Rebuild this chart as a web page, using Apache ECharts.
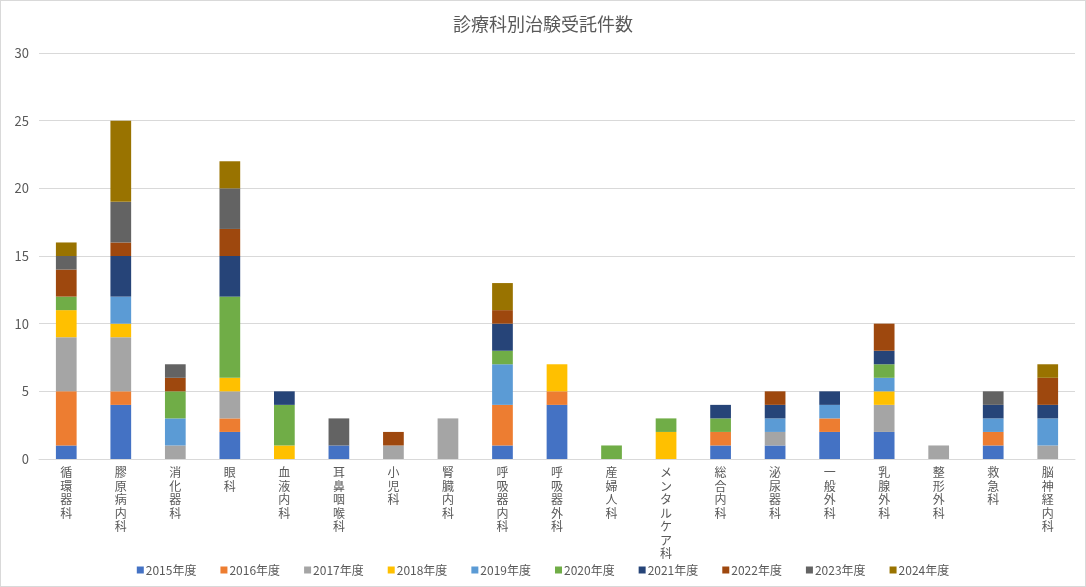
<!DOCTYPE html>
<html><head><meta charset="utf-8">
<script src="https://cdn.jsdelivr.net/npm/echarts@6/dist/echarts.min.js"></script>
<style>html,body{margin:0;padding:0;background:#fff}#c{width:1086px;height:587px;box-sizing:border-box;border:1px solid #d9d9d9}</style>
</head><body><div id="c"></div>
<script>
const categories = ['循環器科','膠原病内科','消化器科','眼科','血液内科','耳鼻咽喉科','小児科','腎臓内科','呼吸器内科','呼吸器外科','産婦人科','メンタルケア科','総合内科','泌尿器科','一般外科','乳腺外科','整形外科','救急科','脳神経内科'];
const seriesNames = ['2015年度','2016年度','2017年度','2018年度','2019年度','2020年度','2021年度','2022年度','2023年度','2024年度'];
const colors = ['#4472C4','#ED7D31','#A5A5A5','#FFC000','#5B9BD5','#70AD47','#264478','#9E480E','#636363','#997300'];
const y2015 = [1,4,0,2,0,1,0,0,1,4,0,0,1,1,2,2,0,1,0];
const y2016 = [4,1,0,1,0,0,0,0,3,1,0,0,1,0,1,0,0,1,0];
const y2017 = [4,4,1,2,0,0,1,3,0,0,0,0,0,1,0,2,1,0,1];
const y2018 = [2,1,0,1,1,0,0,0,0,2,0,2,0,0,0,1,0,0,0];
const y2019 = [0,2,2,0,0,0,0,0,3,0,0,0,0,1,1,1,0,1,2];
const y2020 = [1,0,2,6,3,0,0,0,1,0,1,1,1,0,0,1,0,0,0];
const y2021 = [0,3,0,3,1,0,0,0,2,0,0,0,1,1,1,1,0,1,1];
const y2022 = [2,1,1,2,0,0,1,0,1,0,0,0,0,1,0,2,0,0,2];
const y2023 = [1,3,1,3,0,2,0,0,0,0,0,0,0,0,0,0,0,1,0];
const y2024 = [1,6,0,2,0,0,0,0,2,0,0,0,0,0,0,0,0,0,1];
const yTicks = [0,5,10,15,20,25,30];
const allData = [y2015,y2016,y2017,y2018,y2019,y2020,y2021,y2022,y2023,y2024];

const chart = echarts.init(document.getElementById('c'));
const font = '"Noto Sans CJK JP", "Noto Sans", sans-serif';
chart.setOption({
  animation:false,
  textStyle:{fontFamily:font},
  title:{text:'診療科別治験受託件数',left:'center',top:9,textStyle:{fontSize:18,fontWeight:'normal',color:'#595959',fontFamily:font}},
  grid:{left:38,right:10,top:52,bottom:127,containLabel:false},
  legend:{bottom:5,left:'center',itemWidth:7,itemHeight:7,itemGap:24,icon:'rect',
    textStyle:{fontSize:12,color:'#595959',fontFamily:font,padding:[0,0,0,-3]},data:seriesNames},
  xAxis:{type:'category',data:categories,
    axisLine:{lineStyle:{color:'#d9d9d9'}},axisTick:{show:false},
    axisLabel:{interval:0,color:'#595959',fontSize:12,lineHeight:13.5,margin:7,verticalAlign:'top',
      formatter:v=>v.split('').join('\n')}},
  yAxis:{type:'value',min:0,max:30,interval:5,
    axisLine:{show:false},axisTick:{show:false},
    axisLabel:{color:'#595959',fontSize:13,margin:10},
    splitLine:{lineStyle:{color:'#d9d9d9'}}},
  series:seriesNames.map((n,i)=>({name:n,type:'bar',stack:'total',barWidth:'38%',
    itemStyle:{color:colors[i]},data:allData[i].map(v=>v===0?null:v)}))
});
</script></body></html>
